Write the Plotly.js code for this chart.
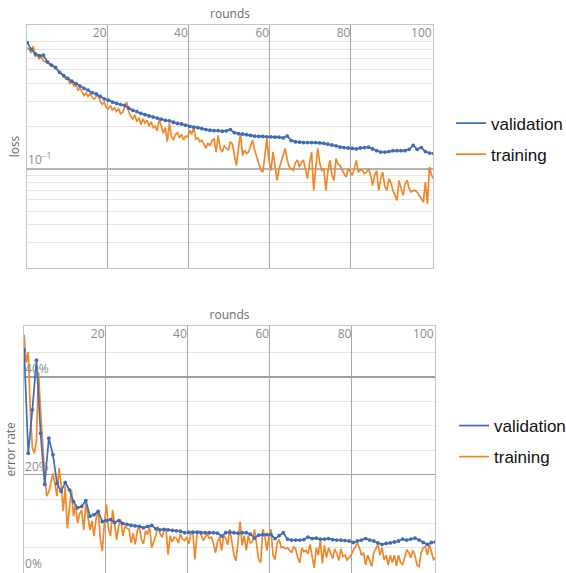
<!DOCTYPE html>
<html>
<head>
<meta charset="utf-8">
<script src="https://cdn.plot.ly/plotly-3.0.1.min.js"></script>
<style>html,body{margin:0;padding:0;background:#fff;overflow:hidden;width:566px;height:573px;}#chart{width:566px;height:573px;display:block;overflow:hidden;}</style>
</head>
<body>
<div id="chart"></div>
<script>
// ---- data ----
const firstRound = 0.33;
const valStep = 1;      // validation measured once per round
const trainStep = 0.5;  // training measured twice per round

const xTickVals = [20, 40, 60, 80, 100];

const validationLoss = [
0.78,0.70,0.65,0.63,0.635,0.57,0.54,0.52,0.48,0.455,
0.435,0.416,0.40,0.384,0.37,0.36,0.345,0.338,0.325,0.312,
0.305,0.296,0.29,0.284,0.28,0.268,0.259,0.253,0.246,0.241,
0.236,0.232,0.228,0.224,0.22,0.218,0.213,0.209,0.207,0.203,
0.199,0.197,0.195,0.192,0.189,0.187,0.186,0.186,0.184,0.185,
0.189,0.18,0.177,0.176,0.174,0.172,0.17,0.169,0.169,0.168,
0.168,0.167,0.167,0.165,0.17,0.158,0.155,0.154,0.153,0.153,
0.153,0.153,0.152,0.151,0.149,0.147,0.145,0.142,0.141,0.14,
0.139,0.138,0.14,0.141,0.142,0.138,0.134,0.131,0.131,0.132,
0.134,0.134,0.134,0.134,0.137,0.146,0.137,0.141,0.132,0.129,
0.128];

const trainingLoss = [
0.72,0.70,0.66,0.74,0.62,0.64,0.60,0.62,0.58,0.57,
0.56,0.55,0.535,0.53,0.515,0.50,0.475,0.47,0.45,0.43,
0.44,0.40,0.41,0.385,0.39,0.36,0.37,0.345,0.33,0.345,
0.325,0.34,0.32,0.31,0.325,0.33,0.30,0.285,0.295,0.27,
0.265,0.28,0.26,0.27,0.255,0.265,0.245,0.25,0.275,0.295,
0.255,0.235,0.225,0.24,0.215,0.23,0.205,0.225,0.21,0.22,
0.2,0.215,0.195,0.2,0.185,0.224,0.2,0.178,0.195,0.155,
0.209,0.17,0.159,0.175,0.18,0.165,0.175,0.16,0.17,0.168,
0.187,0.175,0.197,0.162,0.165,0.155,0.159,0.15,0.14,0.152,
0.145,0.158,0.163,0.131,0.172,0.14,0.131,0.145,0.141,0.135,
0.155,0.15,0.125,0.105,0.14,0.177,0.124,0.135,0.128,0.131,
0.145,0.159,0.135,0.121,0.11,0.097,0.0946,0.13,0.163,0.115,
0.097,0.131,0.105,0.0826,0.1,0.1145,0.125,0.139,0.115,0.103,
0.1,0.097,0.11,0.115,0.1026,0.112,0.1145,0.1,0.085,0.11,
0.131,0.0702,0.1,0.139,0.11,0.097,0.1,0.0702,0.095,0.1145,
0.09,0.0826,0.1178,0.108,0.105,0.097,0.092,0.0872,0.1,0.095,
0.0897,0.1,0.1145,0.0946,0.098,0.097,0.092,0.0946,0.1,0.09,
0.076,0.09,0.097,0.0702,0.085,0.0946,0.075,0.0702,0.085,0.08,
0.0702,0.065,0.0596,0.0826,0.072,0.0647,0.078,0.0826,0.072,0.0683,
0.07,0.0702,0.068,0.0647,0.062,0.058,0.0804,0.0565,0.1026,0.09,
0.085];

const validationError = [
0.456,0.244,0.333,0.435,0.285,0.18,0.275,0.241,0.182,0.166,
0.184,0.169,0.145,0.132,0.135,0.147,0.115,0.118,0.125,0.104,
0.106,0.108,0.102,0.106,0.1,0.098,0.096,0.095,0.094,0.091,
0.094,0.096,0.089,0.087,0.088,0.087,0.086,0.085,0.084,0.081,
0.082,0.082,0.082,0.081,0.081,0.081,0.081,0.08,0.074,0.081,
0.082,0.081,0.08,0.081,0.081,0.078,0.07,0.076,0.077,0.077,
0.077,0.069,0.075,0.081,0.068,0.066,0.066,0.066,0.067,0.072,
0.069,0.07,0.068,0.068,0.069,0.067,0.066,0.066,0.065,0.064,
0.061,0.064,0.066,0.069,0.066,0.064,0.06,0.057,0.059,0.06,
0.062,0.064,0.068,0.066,0.068,0.07,0.066,0.061,0.057,0.061,
0.062];

const trainingError = [
0.487,0.43,0.452,0.33,0.255,0.244,0.272,0.41,0.33,0.26,
0.2,0.156,0.165,0.183,0.203,0.18,0.156,0.214,0.18,0.125,
0.176,0.09,0.135,0.169,0.115,0.14,0.101,0.12,0.128,0.087,
0.142,0.11,0.087,0.105,0.074,0.11,0.128,0.07,0.043,0.1,
0.139,0.09,0.074,0.128,0.1,0.067,0.095,0.108,0.074,0.094,
0.09,0.088,0.06,0.08,0.057,0.085,0.094,0.067,0.058,0.085,
0.078,0.094,0.05,0.062,0.075,0.094,0.08,0.072,0.085,0.088,
0.036,0.075,0.062,0.072,0.07,0.06,0.078,0.068,0.065,0.072,
0.058,0.078,0.085,0.026,0.075,0.085,0.078,0.065,0.072,0.078,
0.07,0.072,0.06,0.04,0.062,0.072,0.045,0.075,0.07,0.056,
0.088,0.06,0.036,0.023,0.062,0.104,0.055,0.075,0.045,0.075,
0.06,0.062,0.088,0.055,0.026,0.02,0.088,0.075,0.045,0.072,
0.088,0.035,0.026,0.06,0.067,0.05,0.052,0.048,0.05,0.045,
0.04,0.052,0.048,0.03,0.019,0.05,0.042,0.045,0.038,0.057,
0.03,0.009,0.05,0.035,0.067,0.018,0.055,0.03,0.05,0.04,
0.028,0.048,0.038,0.024,0.048,0.032,0.035,0.025,0.03,0.035,
0.045,0.053,0.06,0.05,0.035,0.04,0.015,0.035,0.025,0.012,
0.04,0.05,0.057,0.035,0.05,0.025,0.035,0.015,0.035,0.02,
0.035,0.013,0.035,0.02,0.016,0.03,0.046,0.04,0.03,0.045,
0.035,0.015,0.012,0.04,0.05,0.053,0.035,0.057,0.04,0.026,
0.03];

const lossMajorTicks = [0.1];
const lossMajorText = ['10<sup>\u22121</sup>'];
const lossMinorTicks = [0.02,0.03,0.04,0.05,0.06,0.07,0.08,0.09,0.2,0.3,0.4,0.5,0.6,0.7,0.8,0.9,1];
const errMajorTicks = [0, 0.2, 0.4];
const errMajorText = ['0%', '20%', '40%'];
const errMinorTicks = [0.05,0.1,0.15,0.25,0.3,0.35,0.45,0.5];

const seriesNames = ['validation', 'training'];

// ---- build ----
const valRounds = validationLoss.map((_, i) => firstRound + i * valStep);
const trainRounds = trainingLoss.map((_, i) => firstRound + i * trainStep);

const BLUE = '#3f6db5';
const ORANGE = '#f0882a';
const W = 566, H = 573;

function lineTrace(x, y, name, color, xa, ya, legend, grp, rank) {
  return {x: x, y: y, name: name, type: 'scatter', mode: 'lines',
    line: {color: color, width: 1.7}, xaxis: xa, yaxis: ya,
    legend: legend, legendgroup: grp, legendrank: rank, hoverinfo: 'skip'};
}
function markTrace(x, y, color, xa, ya, legend, grp, rank) {
  return {x: x, y: y, type: 'scatter', mode: 'markers', showlegend: false,
    marker: {color: color, size: 3.8}, xaxis: xa, yaxis: ya,
    legend: legend, legendgroup: grp, legendrank: rank, hoverinfo: 'skip'};
}

const data = [
  lineTrace(trainRounds, trainingLoss, seriesNames[1], ORANGE, 'x', 'y', 'legend', 't1', 2),
  lineTrace(valRounds, validationLoss, seriesNames[0], BLUE, 'x', 'y', 'legend', 'v1', 1),
  markTrace(valRounds, validationLoss, BLUE, 'x', 'y', 'legend', 'v1', 1),
  lineTrace(trainRounds, trainingError, seriesNames[1], ORANGE, 'x2', 'y2', 'legend2', 't2', 2),
  lineTrace(valRounds, validationError, seriesNames[0], BLUE, 'x2', 'y2', 'legend2', 'v2', 1),
  markTrace(valRounds, validationError, BLUE, 'x2', 'y2', 'legend2', 'v2', 1)
];

const tickFont = {family: 'Open Sans', size: 12, color: '#8a8a8a'};
const titleFont = {family: 'Open Sans', size: 12, color: '#6a6a6a'};

function xAxis(dom, anchor) {
  return {domain: dom, anchor: anchor, side: 'top', range: [0.3, 100.2],
    tickmode: 'array', tickvals: xTickVals, ticks: '', ticklabelposition: 'inside left',
    showgrid: true, gridcolor: '#a8a8a8', gridwidth: 1, zeroline: false,
    showline: true, linecolor: '#c4c4c4', linewidth: 1, mirror: true,
    tickfont: tickFont, automargin: false,
    title: {text: 'rounds', font: titleFont, standoff: 2}};
}

const legendFont = {family: 'Liberation Sans, Arial, sans-serif', size: 17, color: '#111'};

const layout = {
  width: W, height: H,
  margin: {l: 0, r: 0, t: 0, b: 0, autoexpand: false},
  paper_bgcolor: '#fff', plot_bgcolor: '#fff',
  xaxis: xAxis([27 / W, 433 / W], 'y'),
  xaxis2: xAxis([24 / W, 435 / W], 'y2'),
  yaxis: {domain: [1 - 268 / H, 1 - 25 / H], anchor: 'x', type: 'log',
    range: [Math.log10(0.0198), Math.log10(1.04)],
    tickmode: 'array', tickvals: lossMajorTicks, ticktext: lossMajorText,
    ticks: '', ticklabelposition: 'inside top',
    showgrid: true, gridcolor: '#b4b4b4', gridwidth: 2, zeroline: false,
    minor: {tickmode: 'array', tickvals: lossMinorTicks, showgrid: true, gridcolor: '#e4e4e4', gridwidth: 1, ticks: ''},
    showline: true, linecolor: '#c4c4c4', mirror: true,
    tickfont: tickFont, automargin: false,
    title: {text: 'loss', font: titleFont, standoff: 5}},
  yaxis2: {domain: [0.0005, 1 - 326 / H], anchor: 'x2',
    range: [-0.001, 0.505],
    tickmode: 'array', tickvals: errMajorTicks, ticktext: errMajorText,
    ticks: '', ticklabelposition: 'inside top',
    showgrid: true, gridcolor: '#9e9e9e', gridwidth: 1.5, zeroline: false,
    minor: {tickmode: 'array', tickvals: errMinorTicks, showgrid: true, gridcolor: '#e4e4e4', gridwidth: 1, ticks: ''},
    showline: true, linecolor: '#c4c4c4', mirror: true,
    tickfont: tickFont, automargin: false,
    title: {text: 'error rate', font: titleFont, standoff: 6}},
  legend: {x: 451 / W, xanchor: 'left', y: 1 - 139 / H, yanchor: 'middle',
    font: legendFont, bgcolor: 'rgba(0,0,0,0)', traceorder: 'grouped', tracegroupgap: 6},
  legend2: {x: 454 / W, xanchor: 'left', y: 1 - 441.5 / H, yanchor: 'middle',
    font: legendFont, bgcolor: 'rgba(0,0,0,0)', traceorder: 'grouped', tracegroupgap: 6},
  showlegend: true
};

Plotly.newPlot('chart', data, layout, {displayModeBar: false, staticPlot: true});
</script>
</body>
</html>
